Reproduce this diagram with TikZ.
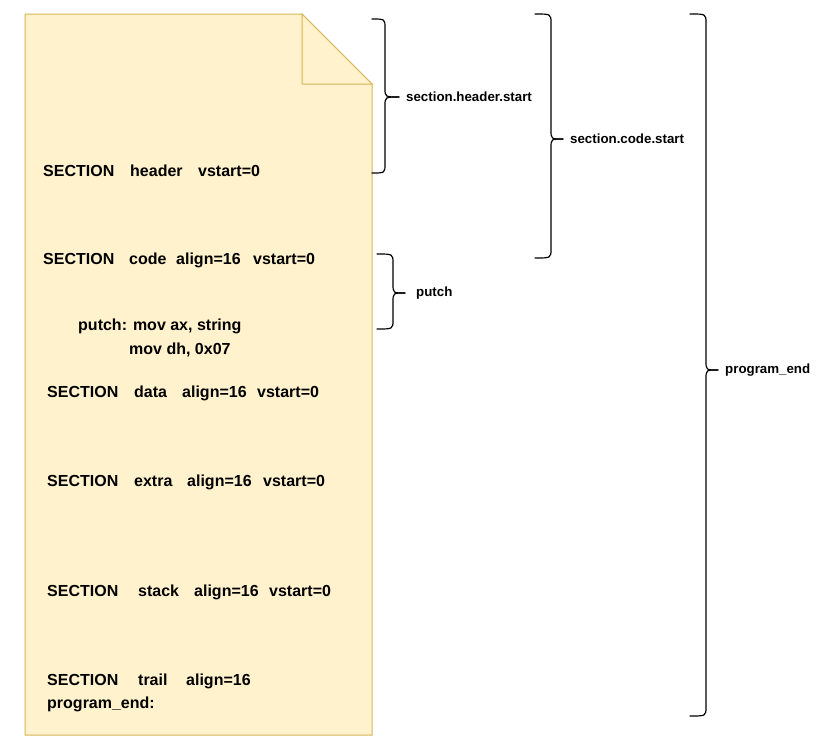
\documentclass[tikz,border=0pt]{standalone}
\usepackage{fontspec}
\setmainfont{Liberation Sans}
\definecolor{notefill}{HTML}{FFF2CC}
\definecolor{noteline}{HTML}{D6B656}
\tikzset{
  note/.style={draw=noteline, fill=notefill, line width=1pt, line join=miter},
  codeline/.style={anchor=west, inner sep=0pt, font=\bfseries\fontsize{16}{19}\selectfont},
  bracelabel/.style={anchor=west, inner sep=0pt, font=\bfseries\fontsize{13.3}{16}\selectfont},
  bracepath/.style={draw=black, line width=1.2pt, line join=round, line cap=round},
}
% word placed in a box of fixed width, so the next word starts at a set column
\newcommand\wordat[2]{\makebox[#1pt][l]{#2}}
% curly brace: #1 outer x, #2 spine x, #3 tip x, #4 top y, #5 tip y, #6 bottom y
\newcommand\curlybrace[6]{%
  \draw[bracepath] (#1,#4) .. controls (#2,#4) .. (#2,#4+9) -- (#2,#5-9)
    .. controls (#2,#5) .. (#3,#5);
  \draw[bracepath] (#3,#5) .. controls (#2,#5) .. (#2,#5+9) -- (#2,#6-9)
    .. controls (#2,#6) .. (#1,#6);
}
\begin{document}
\begin{tikzpicture}[x=1pt,y=-1pt]
  \useasboundingbox (0,0) rectangle (830,742);

  % page with folded corner
  \draw[note] (25,14) -- (302,14) -- (372,84) -- (372,735) -- (25,735) -- cycle;
  \draw[note] (302,14) -- (302,84) -- (372,84) -- cycle;

  % listing
  \node[codeline] (hdr) at (43,171) {\wordat{87}{SECTION}\wordat{68}{header}vstart=0};
  \node[codeline] (code) at (43,260) {\wordat{86}{SECTION}\wordat{47}{code}\wordat{77}{align=16}vstart=0};
  \node[codeline] (putch) at (78,326) {putch: mov ax, string};
  \node[codeline] (movdh) at (129,350) {mov dh, 0x07};
  \node[codeline] (data) at (47,393) {\wordat{87}{SECTION}\wordat{48}{data}\wordat{75}{align=16}vstart=0};
  \node[codeline] (extra) at (47,482) {\wordat{87}{SECTION}\wordat{53}{extra}\wordat{76}{align=16}vstart=0};
  \node[codeline] (stack) at (47,592) {\wordat{91}{SECTION}\wordat{56}{stack}\wordat{75}{align=16}vstart=0};
  \node[codeline] (trail) at (47,681) {\wordat{91}{SECTION}\wordat{48}{trail}align=16};
  \node[codeline] (pend) at (47,704) {program\_end:};

  % braces and their labels
  \curlybrace{372}{385}{399}{19}{97}{173}
  \node[bracelabel] (lblheader) at (406,97) {section.header.start};

  \curlybrace{535}{551}{563}{14}{139}{258}
  \node[bracelabel] (lblcode) at (570,139) {section.code.start};

  \curlybrace{377}{393}{405}{254}{293}{329}
  \node[bracelabel] (lblputch) at (416,293) {putch};

  \curlybrace{690}{706}{718}{14}{370}{716}
  \node[bracelabel] (lblend) at (725,370) {program\_end};
\end{tikzpicture}
\end{document}
